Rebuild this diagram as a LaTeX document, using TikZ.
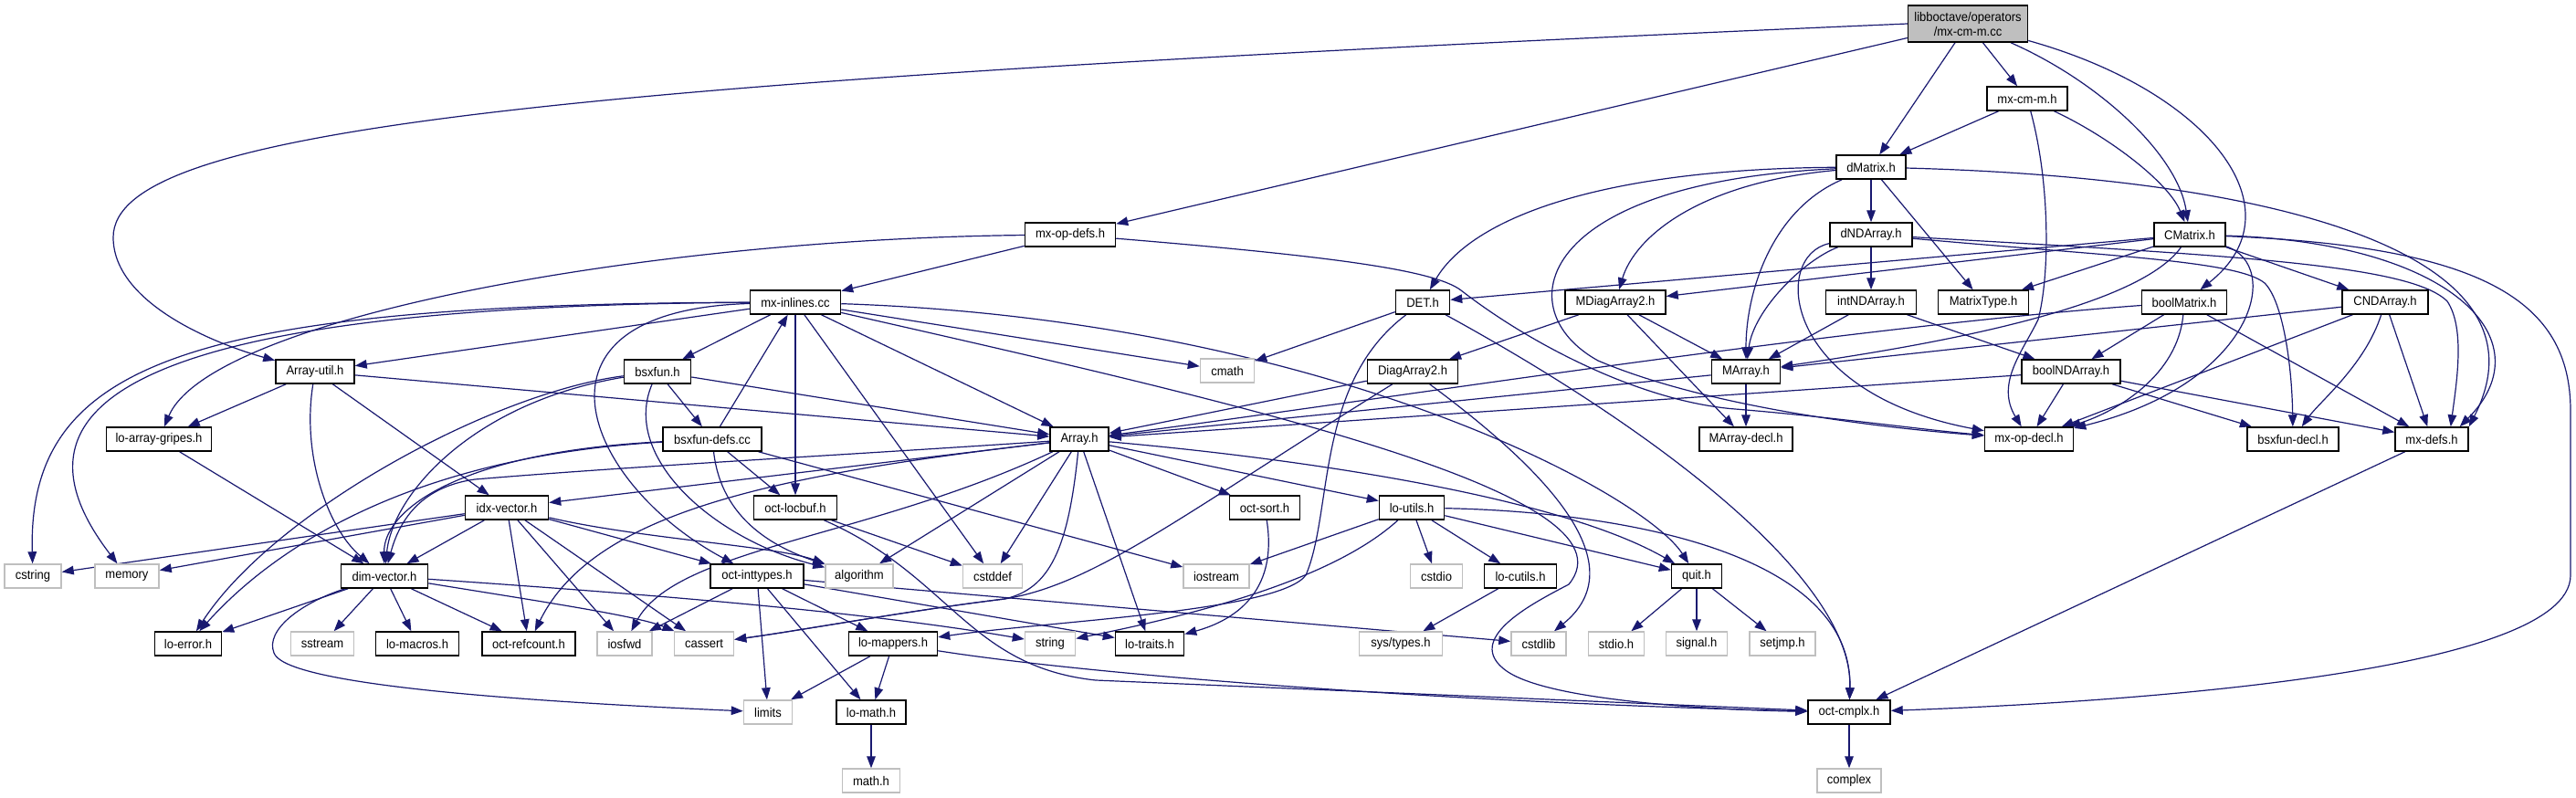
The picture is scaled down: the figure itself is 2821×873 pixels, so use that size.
\documentclass[tikz,border=0pt]{standalone}
\usepackage{fontspec}
\setmainfont{Liberation Sans}[FakeStretch=0.93]
\usetikzlibrary{arrows.meta}
\definecolor{edgecol}{HTML}{191970}
\definecolor{sysgray}{HTML}{BFBFBF}
\pgfdeclarelayer{bg}
\pgfsetlayers{bg,main}
\tikzset{
  nd/.style={draw=black, fill=white, line width=0.75pt, minimum height=13pt, inner xsep=2pt, inner ysep=0pt, font=\fontsize{7pt}{8pt}\selectfont},
  sys/.style={nd, draw=sysgray},
  edge/.style={draw=edgecol, line width=0.6pt, -{Triangle[length=6.5pt,width=4.8pt]}},
}
\newcommand{\mknode}[5][nd]{\node[#1, minimum width=#5pt] (#2) at (#3) {#4};}
\begin{document}
\begin{tikzpicture}[x=0.5pt,y=-0.5pt]
\useasboundingbox (0,0) rectangle (2821,873);
% nodes
\node[nd, fill=sysgray, minimum width=65.5pt, minimum height=20pt, align=center] (root) at (2155,26) {libboctave/operators\\/mx-cm-m.cc};
\mknode{mxcmmh}{2220,108}{mx-cm-m.h}{44}
\mknode{dmatrix}{2049,183}{dMatrix.h}{38}
\mknode{mxopdefs}{1172,257}{mx-op-defs.h}{49.5}
\mknode{cmatrix}{2398,257}{CMatrix.h}{39}
\mknode{dndarray}{2049,257}{dNDArray.h}{45}
\mknode{det}{1558,331}{DET.h}{29.5}
\mknode{mdiagarray2}{1769,331}{MDiagArray2.h}{55}
\mknode{intndarray}{2049,331}{intNDArray.h}{49.5}
\mknode{matrixtype}{2172,331}{MatrixType.h}{49.5}
\mknode{boolmatrix}{2392,331}{boolMatrix.h}{46.5}
\mknode{cndarray}{2612,331}{CNDArray.h}{47}
\mknode{mxinlines}{871,331}{mx-inlines.cc}{49.5}
\mknode{arrayutil}{345,407}{Array-util.h}{43}
\mknode{bsxfun}{720,407}{bsxfun.h}{36.5}
\mknode[sys]{cmath}{1344,406}{cmath}{29.5}
\mknode{diagarray2}{1547,407}{DiagArray2.h}{49.5}
\mknode{marray}{1912,407}{MArray.h}{37.5}
\mknode{boolndarray}{2268,407}{boolNDArray.h}{54}
\mknode{loarraygripes}{174,481}{lo-array-gripes.h}{57.5}
\mknode{bsxfundefs}{780,481}{bsxfun-defs.cc}{54}
\mknode{array}{1182,481}{Array.h}{32}
\mknode{marraydecl}{1912,481}{MArray-decl.h}{51}
\mknode{mxopdecl}{2222,481}{mx-op-decl.h}{48.5}
\mknode{bsxfundecl}{2511,481}{bsxfun-decl.h}{50}
\mknode{mxdefs}{2663,481}{mx-defs.h}{40}
\mknode{idxvector}{555,556}{idx-vector.h}{45.5}
\mknode{octlocbuf}{871,556}{oct-locbuf.h}{45.5}
\mknode{octsort}{1385,556}{oct-sort.h}{38.5}
\mknode{loutils}{1546,556}{lo-utils.h}{35.5}
\mknode[sys]{cstring}{36,631}{cstring}{31}
\mknode[sys]{memory}{139,631}{memory}{35}
\mknode{dimvector}{421,631}{dim-vector.h}{47.5}
\mknode{octinttypes}{829,631}{oct-inttypes.h}{51}
\mknode[sys]{algorithm}{941,631}{algorithm}{37}
\mknode[sys]{cstddef}{1087,631}{cstddef}{32.5}
\mknode[sys]{iostream}{1332,631}{iostream}{36}
\mknode[sys]{cstdio}{1573,631}{cstdio}{28.5}
\mknode{locutils}{1665,631}{lo-cutils.h}{39.5}
\mknode{quit}{1858,631}{quit.h}{27.5}
\mknode{loerror}{206,705}{lo-error.h}{36.5}
\mknode[sys]{sstream}{353,705}{sstream}{34.5}
\mknode{lomacros}{457,705}{lo-macros.h}{45.5}
\mknode{octrefcount}{579,705}{oct-refcount.h}{51}
\mknode[sys]{iosfwd}{684,705}{iosfwd}{30}
\mknode[sys]{cassert}{771,705}{cassert}{32.5}
\mknode{lomappers}{978,705}{lo-mappers.h}{48.5}
\mknode[sys]{string}{1150,705}{string}{27.5}
\mknode{lotraits}{1259,705}{lo-traits.h}{37.5}
\mknode[sys]{systypes}{1534,705}{sys/types.h}{45.5}
\mknode[sys]{cstdlib}{1685,705}{cstdlib}{30}
\mknode[sys]{stdioh}{1770,705}{stdio.h}{30.5}
\mknode[sys]{signalh}{1858,705}{signal.h}{33.5}
\mknode[sys]{setjmph}{1952,705}{setjmp.h}{36}
\mknode[sys]{limits}{841,780}{limits}{26.5}
\mknode{lomath}{954,780}{lo-math.h}{38}
\mknode{octcmplx}{2025,780}{oct-cmplx.h}{45}
\mknode[sys]{mathh}{954,855}{math.h}{31.5}
\mknode[sys]{complex}{2025,855}{complex}{35}
% edges
\begin{pgfonlayer}{bg}
\fill[white] (0,0) rectangle (2821,873);
% root
\draw[edge] (root.west) .. controls (600,90) and (124,140) .. (124,260) .. controls (124,330) and (230,375) .. (arrayutil);
\draw[edge] (root) -- (mxopdefs);
\draw[edge] (root) -- (dmatrix);
\draw[edge] (root) -- (mxcmmh);
\draw[edge] (root) .. controls (2300,90) and (2385,170) .. (cmatrix);
\draw[edge] (root) .. controls (2420,100) and (2520,230) .. (boolmatrix);
% mx-cm-m.h
\draw[edge] (mxcmmh) -- (dmatrix);
\draw[edge] (mxcmmh) .. controls (2310,150) and (2375,200) .. (cmatrix);
\draw[edge] (mxcmmh) .. controls (2245,200) and (2245,300) .. (2232,350) .. controls (2215,385) and (2185,420) .. (mxopdecl);
% dMatrix.h
\draw[edge] (dmatrix) -- (dndarray);
\draw[edge] (dmatrix) .. controls (1750,185) and (1610,240) .. (det);
\draw[edge] (dmatrix) .. controls (1860,200) and (1790,260) .. (mdiagarray2);
\draw[edge] (dmatrix) .. controls (1940,230) and (1912,320) .. (marray);
\draw[edge] (dmatrix) -- (matrixtype);
\draw[edge] (dmatrix) .. controls (1680,200) and (1650,340) .. (1750,395) .. controls (1880,450) and (2080,470) .. (mxopdecl);
\draw[edge] (dmatrix) .. controls (2500,195) and (2800,280) .. (mxdefs.north east);
% mx-op-defs.h
\draw[edge] (mxopdefs) .. controls (700,262) and (230,350) .. (loarraygripes);
\draw[edge] (mxopdefs) -- (mxinlines);
\draw[edge] (mxopdefs) .. controls (1450,280) and (1570,295) .. (1600,318) .. controls (1680,380) and (1800,440) .. (1900,448) .. controls (2000,456) and (2100,470) .. (mxopdecl);
% CMatrix.h
\draw[edge] (cmatrix) -- (det);
\draw[edge] (cmatrix) -- (mdiagarray2);
\draw[edge] (cmatrix) -- (matrixtype);
\draw[edge] (cmatrix) .. controls (2340,340) and (2100,380) .. (marray);
\draw[edge] (cmatrix) .. controls (2500,290) and (2470,420) .. (mxopdecl);
\draw[edge] (cmatrix) -- (cndarray);
\draw[edge] (cmatrix) .. controls (2680,265) and (2790,370) .. ([xshift=-5pt]mxdefs.north east);
\draw[edge] (cmatrix) .. controls (2720,270) and (2815,330) .. (2815,450) -- (2815,630) .. controls (2815,740) and (2300,770) .. (octcmplx);
% dNDArray.h
\draw[edge] (dndarray) -- (intndarray);
\draw[edge] (dndarray) .. controls (1975,285) and (1920,340) .. (marray);
\draw[edge] (dndarray) .. controls (1940,280) and (1950,430) .. (mxopdecl);
\draw[edge] (dndarray) .. controls (2300,280) and (2450,285) .. (2480,310) .. controls (2500,330) and (2510,400) .. (bsxfundecl);
\draw[edge] (dndarray) .. controls (2450,280) and (2640,290) .. (2680,330) .. controls (2700,360) and (2690,420) .. ([xshift=-10pt]mxdefs.north east);
% DET.h
\draw[edge] (det) -- (cmath);
\draw[edge] (det) .. controls (1440,420) and (1460,560) .. (1430,630) .. controls (1400,670) and (1150,680) .. (lomappers);
\draw[edge] (det) .. controls (1830,480) and (2030,640) .. (octcmplx);
% MDiagArray2.h
\draw[edge] (mdiagarray2) -- (diagarray2);
\draw[edge] (mdiagarray2) -- (marray);
\draw[edge] (mdiagarray2) -- (marraydecl);
% intNDArray.h
\draw[edge] (intndarray) -- (marray);
\draw[edge] (intndarray) -- (boolndarray);
% boolMatrix.h
\draw[edge] (boolmatrix) .. controls (2000,360) and (1500,440) .. (array);
\draw[edge] (boolmatrix) -- (boolndarray);
\draw[edge] (boolmatrix) .. controls (2385,410) and (2320,450) .. (mxopdecl);
\draw[edge] (boolmatrix) -- (mxdefs);
% CNDArray.h
\draw[edge] (cndarray) -- (marray);
\draw[edge] (cndarray) -- (mxopdecl);
\draw[edge] (cndarray) .. controls (2590,400) and (2540,440) .. (bsxfundecl);
\draw[edge] (cndarray) -- (mxdefs);
% boolNDArray.h
\draw[edge] (boolndarray) -- (array);
\draw[edge] (boolndarray) -- (mxopdecl);
\draw[edge] (boolndarray) -- (bsxfundecl);
\draw[edge] (boolndarray) -- (mxdefs);
% MArray.h
\draw[edge] (marray) -- (array);
\draw[edge] (marray) -- (marraydecl);
% DiagArray2.h
\draw[edge] (diagarray2) -- (array);
\draw[edge] (diagarray2) .. controls (1300,560) and (1200,640) .. (1100,656) .. controls (1000,668) and (880,690) .. (cassert);
\draw[edge] (diagarray2) .. controls (1700,520) and (1790,620) .. (cstdlib);
% mx-defs.h
\draw[edge] (mxdefs) -- (octcmplx);
% mx-inlines.cc
\draw[edge] (mxinlines) .. controls (200,333) and (30,400) .. (cstring);
\draw[edge] (mxinlines) .. controls (120,335) and (0,450) .. (memory);
\draw[edge] (mxinlines) -- (arrayutil);
\draw[edge] (mxinlines) -- (bsxfun);
\draw[edge] (mxinlines) .. controls (560,340) and (640,530) .. (octinttypes);
\draw[edge] (mxinlines) -- (octlocbuf);
\draw[edge] (mxinlines) -- (cstddef);
\draw[edge] (mxinlines) -- (array);
\draw[edge] (mxinlines) -- (cmath);
\draw[edge] (mxinlines) .. controls (1450,350) and (1800,540) .. (quit);
\draw[edge] (mxinlines) .. controls (1350,440) and (1800,540) .. (1718,640) .. controls (1680,660) and (1600,700) .. (1650,735) .. controls (1700,770) and (1900,778) .. (octcmplx);
% Array-util.h
\draw[edge] (arrayutil) -- (loarraygripes);
\draw[edge] (arrayutil) .. controls (330,500) and (360,580) .. (dimvector);
\draw[edge] (arrayutil) -- (idxvector);
\draw[edge] (arrayutil) -- (array);
\draw[edge] (loarraygripes) -- (dimvector);
% bsxfun.h
\draw[edge] (bsxfun) -- (array);
\draw[edge] (bsxfun) -- (bsxfundefs);
\draw[edge] (bsxfun) .. controls (520,440) and (430,540) .. (dimvector);
\draw[edge] (bsxfun) .. controls (540,430) and (300,560) .. (loerror);
\draw[edge] (bsxfun) .. controls (680,500) and (780,590) .. (algorithm);
% bsxfun-defs.cc
\draw[edge] (bsxfundefs) -- (mxinlines);
\draw[edge] (bsxfundefs) -- (octlocbuf);
\draw[edge] (bsxfundefs) .. controls (500,495) and (420,560) .. (dimvector);
\draw[edge] (bsxfundefs) .. controls (450,500) and (300,600) .. (loerror);
\draw[edge] (bsxfundefs) .. controls (790,570) and (850,600) .. (algorithm);
\draw[edge] (bsxfundefs) -- (iostream);
% Array.h
\draw[edge] (array) -- (idxvector);
\draw[edge] (array) .. controls (900,500) and (700,510) .. (520,525) .. controls (470,532) and (440,560) .. (dimvector);
\draw[edge] (array) .. controls (850,520) and (650,560) .. (octrefcount);
\draw[edge] (array) .. controls (950,590) and (740,600) .. (iosfwd);
\draw[edge] (array) -- (algorithm);
\draw[edge] (array) -- (cstddef);
\draw[edge] (array) .. controls (1170,600) and (1150,645) .. (1100,656) .. controls (1000,668) and (880,690) .. (cassert);
\draw[edge] (array) -- (lotraits);
\draw[edge] (array) -- (octsort);
\draw[edge] (array) -- (loutils);
\draw[edge] (array) .. controls (1400,500) and (1700,540) .. (quit);
% idx-vector.h
\draw[edge] (idxvector) -- (cstring);
\draw[edge] (idxvector) -- (memory);
\draw[edge] (idxvector) -- (dimvector);
\draw[edge] (idxvector) -- (octrefcount);
\draw[edge] (idxvector) -- (iosfwd);
\draw[edge] (idxvector) -- (cassert);
\draw[edge] (idxvector) .. controls (700,590) and (850,598) .. (algorithm);
\draw[edge] (idxvector) -- (octinttypes);
% oct-locbuf.h
\draw[edge] (octlocbuf) -- (cstddef);
\draw[edge] (octlocbuf) .. controls (1040,630) and (1060,730) .. (1200,745) -- (octcmplx);
% oct-sort.h
\draw[edge] (octsort) .. controls (1400,650) and (1350,680) .. (lotraits);
% lo-utils.h
\draw[edge] (loutils) -- (iostream);
\draw[edge] (loutils) .. controls (1470,625) and (1350,665) .. (string);
\draw[edge] (loutils) -- (cstdio);
\draw[edge] (loutils) -- (locutils);
\draw[edge] (loutils) -- (quit);
\draw[edge] (loutils) .. controls (1760,560) and (2030,600) .. (octcmplx);
% dim-vector.h
\draw[edge] (dimvector) .. controls (330,660) and (290,690) .. (300,715) .. controls (310,745) and (500,765) .. (limits);
\draw[edge] (dimvector) -- (sstream);
\draw[edge] (dimvector) -- (loerror);
\draw[edge] (dimvector) -- (lomacros);
\draw[edge] (dimvector) -- (octrefcount);
\draw[edge] (dimvector) .. controls (600,660) and (700,675) .. (cassert);
\draw[edge] (dimvector) .. controls (700,650) and (950,670) .. (string);
% oct-inttypes.h
\draw[edge] (octinttypes) -- (cstdlib);
\draw[edge] (octinttypes) -- (limits);
\draw[edge] (octinttypes) -- (iosfwd);
\draw[edge] (octinttypes) -- (lotraits);
\draw[edge] (octinttypes) -- (lomath);
\draw[edge] (octinttypes) -- (lomappers);
% lo-mappers.h
\draw[edge] (lomappers) -- (limits);
\draw[edge] (lomappers) -- (lomath);
\draw[edge] (lomappers) .. controls (1200,740) and (1600,770) .. (octcmplx);
% leaves
\draw[edge] (lomath) -- (mathh);
\draw[edge] (quit) -- (stdioh);
\draw[edge] (quit) -- (signalh);
\draw[edge] (quit) -- (setjmph);
\draw[edge] (locutils) -- (systypes);
\draw[edge] (octcmplx) -- (complex);
\end{pgfonlayer}
\end{tikzpicture}
\end{document}
